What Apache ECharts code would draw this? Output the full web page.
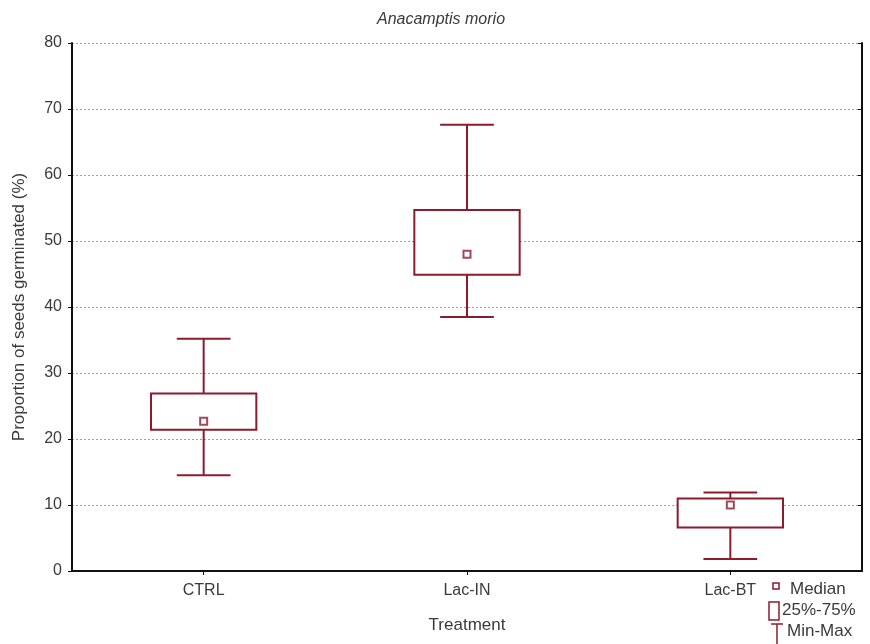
<!DOCTYPE html>
<html>
<head>
<meta charset="utf-8">
<script src="https://cdn.jsdelivr.net/npm/echarts@6/dist/echarts.min.js"></script>
<style>
html,body{margin:0;padding:0;background:#fff;}
#chart{width:870px;height:644px;}
</style>
</head>
<body>
<div id="chart"></div>
<script>
// Germination of Anacamptis morio seeds per treatment
const categories = ['CTRL', 'Lac-IN', 'Lac-BT'];
const minValues = [14.5, 38.5, 1.8];
const q1Values = [21.4, 44.9, 6.6];
const medianValues = [22.7, 48.0, 10.0];
const q3Values = [26.9, 54.7, 11.0];
const maxValues = [35.2, 67.6, 11.9];
const yTicks = [0, 10, 20, 30, 40, 50, 60, 70, 80];

const RED = '#8a1c2c';
const FONT = 'Liberation Sans, Arial, sans-serif';
const TEXT = '#3a3a3a';

const boxData = categories.map((c, i) => [i, minValues[i], q1Values[i], q3Values[i], maxValues[i]]);
const medianData = categories.map((c, i) => [i, medianValues[i]]);

// whiskers, caps and the interquartile box, positioned through the axes
function renderBox(params, api) {
  const idx = api.value(0);
  const pMin = api.coord([idx, api.value(1)]);
  const pQ1 = api.coord([idx, api.value(2)]);
  const pQ3 = api.coord([idx, api.value(3)]);
  const pMax = api.coord([idx, api.value(4)]);
  const band = api.size([1, 0])[0];
  const halfBox = band * 0.2;
  const halfCap = band * 0.102;
  const x = pMin[0];
  const lineStyle = { stroke: RED, lineWidth: 2, fill: null };
  return {
    type: 'group',
    children: [
      { type: 'line', shape: { x1: x, y1: pMin[1], x2: x, y2: pQ1[1] }, style: lineStyle },
      { type: 'line', shape: { x1: x, y1: pQ3[1], x2: x, y2: pMax[1] }, style: lineStyle },
      { type: 'line', shape: { x1: x - halfCap, y1: pMin[1], x2: x + halfCap, y2: pMin[1] }, style: lineStyle },
      { type: 'line', shape: { x1: x - halfCap, y1: pMax[1], x2: x + halfCap, y2: pMax[1] }, style: lineStyle },
      { type: 'rect', shape: { x: x - halfBox, y: pQ3[1], width: halfBox * 2, height: pQ1[1] - pQ3[1] },
        style: { stroke: RED, lineWidth: 2, fill: '#fff' } }
    ]
  };
}

const chart = echarts.init(document.getElementById('chart'), null, { renderer: 'canvas' });

const axisLine = { show: true, lineStyle: { color: '#111', width: 2 } };
const labelStyle = { color: TEXT, fontFamily: FONT, fontSize: 16 };

chart.setOption({
  backgroundColor: '#fff',
  animation: false,
  title: {
    text: 'Anacamptis morio',
    left: 436, top: 7, textAlign: 'center',
    textStyle: { fontFamily: FONT, fontSize: 16, fontStyle: 'italic', fontWeight: 'normal', color: TEXT }
  },
  grid: { left: 72, right: 8, top: 43, bottom: 73 },
  xAxis: [
    {
      type: 'category', data: categories, boundaryGap: true,
      axisLine: axisLine,
      axisTick: { show: true, alignWithLabel: true, inside: false, length: 4, lineStyle: { color: '#111' } },
      axisLabel: Object.assign({ margin: 12 }, labelStyle),
      name: 'Treatment', nameLocation: 'middle', nameGap: 46,
      nameTextStyle: { fontFamily: FONT, fontSize: 17, color: TEXT },
      splitLine: { show: false }
    },
    {
      type: 'category', data: categories, position: 'top', boundaryGap: true,
      axisLine: axisLine,
      axisTick: { show: true, alignWithLabel: true, inside: true, length: 4, lineStyle: { color: '#111' } },
      axisLabel: { show: false }
    }
  ],
  yAxis: [
    {
      type: 'value', min: yTicks[0], max: yTicks[yTicks.length - 1], interval: 10,
      axisLine: axisLine,
      axisTick: { show: true, inside: false, length: 4, lineStyle: { color: '#111' } },
      axisLabel: Object.assign({ margin: 10 }, labelStyle),
      splitLine: { show: true, lineStyle: { color: '#a0a0a0', type: [2, 2], width: 1 } },
      name: 'Proportion of seeds germinated (%)', nameLocation: 'middle', nameGap: 44,
      nameTextStyle: { fontFamily: FONT, fontSize: 17, color: TEXT }
    },
    {
      type: 'value', position: 'right', min: yTicks[0], max: yTicks[yTicks.length - 1], interval: 10,
      axisLine: axisLine,
      axisTick: { show: true, inside: true, length: 4, lineStyle: { color: '#111' } },
      axisLabel: { show: false },
      splitLine: { show: false }
    }
  ],
  series: [
    {
      type: 'custom', name: 'Box', renderItem: renderBox,
      encode: { x: 0, y: [1, 2, 3, 4] },
      data: boxData, z: 3
    },
    {
      type: 'scatter', name: 'Median', data: medianData,
      symbol: 'rect', symbolSize: 7,
      itemStyle: { color: '#fff', borderColor: RED, borderWidth: 2 },
      z: 5
    }
  ],
  graphic: [
    // key: median marker
    { type: 'rect', shape: { x: 773, y: 583, width: 6, height: 6 },
      style: { stroke: RED, lineWidth: 1.5, fill: '#fff' } },
    { type: 'text', style: { x: 790, y: 589, text: 'Median', font: '17px ' + FONT, fill: TEXT, verticalAlign: 'middle' } },
    // key: 25%-75% box
    { type: 'rect', shape: { x: 769, y: 602, width: 10, height: 18 },
      style: { stroke: RED, lineWidth: 1.5, fill: '#fff' } },
    { type: 'text', style: { x: 782, y: 610, text: '25%-75%', font: '17px ' + FONT, fill: TEXT, verticalAlign: 'middle' } },
    // key: min-max whisker
    { type: 'line', shape: { x1: 771, y1: 624, x2: 783, y2: 624 },
      style: { stroke: RED, lineWidth: 1.5 } },
    { type: 'line', shape: { x1: 777, y1: 624, x2: 777, y2: 644 },
      style: { stroke: RED, lineWidth: 1.5 } },
    { type: 'text', style: { x: 787, y: 631, text: 'Min-Max', font: '17px ' + FONT, fill: TEXT, verticalAlign: 'middle' } }
  ]
});
</script>
</body>
</html>
